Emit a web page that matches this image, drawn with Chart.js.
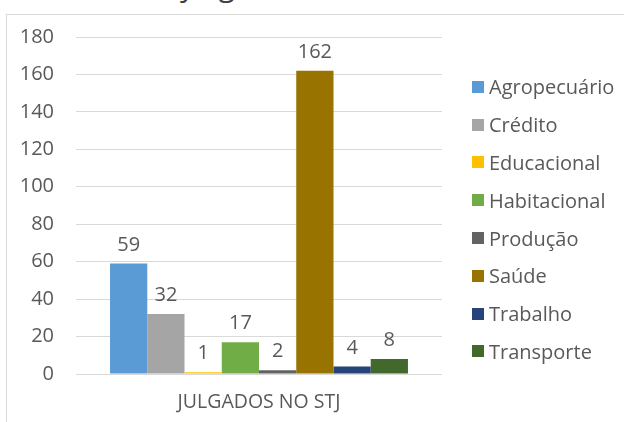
<!DOCTYPE html>
<html>
<head>
<meta charset="utf-8">
<script src="https://cdn.jsdelivr.net/npm/chart.js@4"></script>
<style>
  html, body { margin: 0; padding: 0; background: #fff; }
  #wrap { position: relative; width: 624px; height: 422px; overflow: hidden; font-family: 'Open Sans', sans-serif; }
  #frame { position: absolute; left: 6px; top: 14px; right: -2px; bottom: -2px; border-left: 1px solid #d9d9d9; border-top: 1px solid #d9d9d9; }
  #cut-title { position: absolute; left: 180px; top: -36px; font-size: 30px; color: #404040; white-space: nowrap; }
  canvas { position: absolute; left: 0; top: 0; }
  #legend { position: absolute; left: 472px; top: 68px; margin: 0; padding: 0; list-style: none; }
  #legend li { height: 37.8px; display: flex; align-items: center; font-size: 20px; color: #595959; white-space: nowrap; }
  #legend span.box { width: 12px; height: 12px; margin-right: 5px; display: inline-block; }
</style>
</head>
<body>
<div id="wrap">
  <div id="cut-title">y&nbsp;&nbsp;&nbsp;g</div>
  <div id="frame"></div>
  <canvas id="chart" width="624" height="422"></canvas>
  <ul id="legend"></ul>
</div>
<script>
/* ===== Julgados no STJ ===== */

const categories = ['JULGADOS NO STJ'];
const seriesNames = ['Agropecuário', 'Crédito', 'Educacional', 'Habitacional', 'Produção', 'Saúde', 'Trabalho', 'Transporte'];
const seriesValues = [59, 32, 1, 17, 2, 162, 4, 8];
const seriesColors = ['#5b9bd5', '#a5a5a5', '#ffc000', '#70ad47', '#636363', '#997300', '#264478', '#43682b'];
const yTicks = [0, 20, 40, 60, 80, 100, 120, 140, 160, 180];

const TEXT = '#595959';
const GRID = '#d9d9d9';

// value labels above each bar
const valueLabels = {
  id: 'valueLabels',
  afterDatasetsDraw(chart) {
    const ctx = chart.ctx;
    ctx.save();
    ctx.font = '20px "Open Sans"';
    ctx.fillStyle = TEXT;
    ctx.textAlign = 'center';
    ctx.textBaseline = 'alphabetic';
    chart.data.datasets.forEach((ds, i) => {
      const meta = chart.getDatasetMeta(i);
      meta.data.forEach((bar, j) => {
        ctx.fillText(String(ds.data[j]), bar.x, bar.y - 13);
      });
    });
    ctx.restore();
  }
};

const datasets = seriesNames.map((name, i) => ({
  label: name,
  data: [seriesValues[i]],
  backgroundColor: seriesColors[i],
  borderWidth: 0,
  categoryPercentage: 0.814,
  barPercentage: 1
}));

new Chart(document.getElementById('chart').getContext('2d'), {
  type: 'bar',
  data: { labels: categories, datasets },
  options: {
    responsive: false,
    animation: false,
    layout: { padding: { top: 37, right: 182, left: 0, bottom: 0 } },
    plugins: {
      legend: { display: false },
      tooltip: { enabled: false }
    },
    scales: {
      x: {
        grid: { display: false, drawTicks: false },
        border: { display: false },
        ticks: { color: TEXT, font: { family: 'Open Sans', size: 19.5 }, padding: 17 },
        afterFit(scale) { scale.height = 48; }
      },
      y: {
        min: 0,
        max: 180,
        afterBuildTicks(scale) { scale.ticks = yTicks.map(v => ({ value: v })); },
        grid: { color: GRID, drawTicks: false, lineWidth: 1 },
        border: { display: false },
        ticks: { color: TEXT, font: { family: 'Open Sans', size: 20 }, padding: 22 },
        afterFit(scale) { scale.width = 76; }
      }
    }
  },
  plugins: [valueLabels]
});

// legend list from the same arrays
const legendEl = document.getElementById('legend');
seriesNames.forEach((name, i) => {
  const li = document.createElement('li');
  li.innerHTML = `<span class="box" style="background:${seriesColors[i]}"></span>${name}`;
  legendEl.appendChild(li);
});
</script>
</body>
</html>
